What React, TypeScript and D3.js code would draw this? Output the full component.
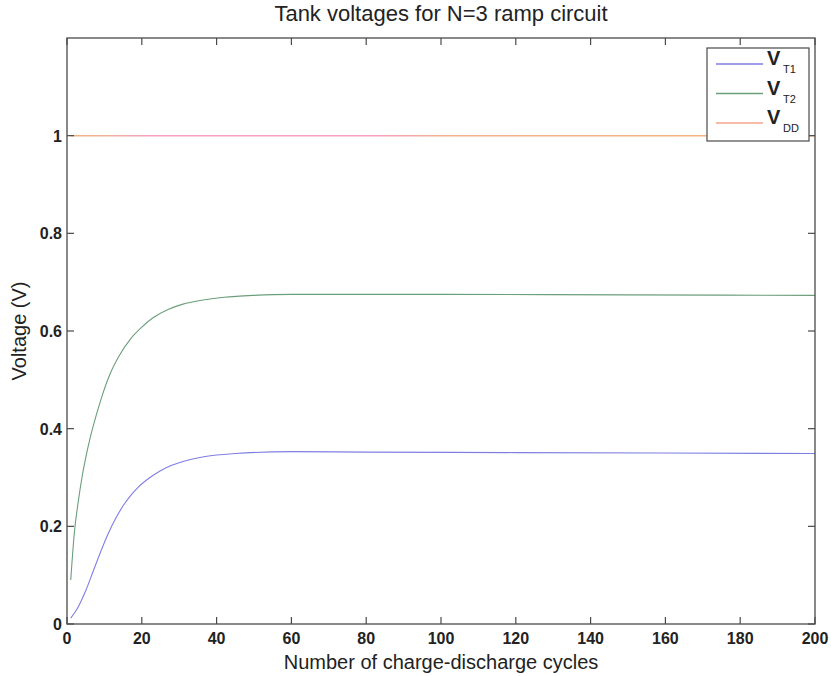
import React from "react";
import * as d3 from "d3";

const vt1X = [1, 3, 5, 7, 9, 11, 13, 15, 17, 19, 22, 25, 28, 32, 37, 45, 60, 80, 120, 200];
const vt1Y = [0.012, 0.035, 0.068, 0.108, 0.148, 0.185, 0.216, 0.242, 0.263, 0.280, 0.299, 0.314, 0.325, 0.335, 0.343, 0.349, 0.353, 0.352, 0.351, 0.349];

const vt2X = [1, 2, 3, 4, 5, 6, 7, 9, 11.5, 14, 17, 20, 23, 27, 31, 36, 42, 50, 60, 100, 150, 200];
const vt2Y = [0.09, 0.19, 0.25, 0.30, 0.34, 0.375, 0.405, 0.458, 0.512, 0.55, 0.584, 0.608, 0.627, 0.644, 0.655, 0.663, 0.669, 0.673, 0.675, 0.675, 0.674, 0.673];

const vddX = [1, 200];
const vddY = [1, 1];

const xTicks = [0, 20, 40, 60, 80, 100, 120, 140, 160, 180, 200];
const yTicks = [0, 0.2, 0.4, 0.6, 0.8, 1];
const yTickLabels = ["0", "0.2", "0.4", "0.6", "0.8", "1"];

const legendNames = ["T1", "T2", "DD"];
const legendColors = ["#7f7fe2", "#6a9f7a", "#f4a48c"];

export default function App() {
  const W = 831, H = 676;
  const L = 67, R = 815, T = 38, B = 624;
  const x = d3.scaleLinear().domain([0, 200]).range([L, R]);
  const y = d3.scaleLinear().domain([0, 1.2]).range([B, T]);
  const line = d3.line<[number, number]>().x(d => x(d[0])).y(d => y(d[1])).curve(d3.curveMonotoneX);
  const zip = (a: number[], b: number[]) => a.map((v, i) => [v, b[i]] as [number, number]);
  const axisColor = "#4a4a4a";
  const font = "'Liberation Sans', Arial, Helvetica, sans-serif";
  const tickLen = 7;

  return (
    <svg width={W} height={H} style={{ position: "absolute", left: 0, top: 0, background: "#fff" }} fontFamily={font}>
      <defs>
        <linearGradient id="vddGrad" gradientUnits="userSpaceOnUse" x1={L} x2={R} y1={0} y2={0}>
          <stop offset="0%" stopColor="#f2b47c" />
          <stop offset="6%" stopColor="#f2b0a0" />
          <stop offset="12%" stopColor="#f5a0c4" />
          <stop offset="40%" stopColor="#f5a0c4" />
          <stop offset="52%" stopColor="#f4b48a" />
          <stop offset="100%" stopColor="#f5b47e" />
        </linearGradient>
      </defs>
      <rect x={0} y={0} width={W} height={H} fill="#fff" />
      {/* lines */}
      <path d={line(zip(vddX, vddY)) || ""} fill="none" stroke="url(#vddGrad)" strokeWidth={1.5} />
      <path d={line(zip(vt2X, vt2Y)) || ""} fill="none" stroke={legendColors[1]} strokeWidth={1.1} />
      <path d={line(zip(vt1X, vt1Y)) || ""} fill="none" stroke={legendColors[0]} strokeWidth={1.1} />
      {/* box */}
      <rect x={L} y={T} width={R - L} height={B - T} fill="none" stroke={axisColor} strokeWidth={1.3} />
      {/* x ticks */}
      {xTicks.map(t => (
        <g key={"x" + t}>
          <line x1={x(t)} x2={x(t)} y1={B} y2={B - tickLen} stroke={axisColor} strokeWidth={1.2} />
          <line x1={x(t)} x2={x(t)} y1={T} y2={T + tickLen} stroke={axisColor} strokeWidth={1.2} />
          <text x={x(t)} y={B + 20} textAnchor="middle" fontSize={16} fontWeight="bold" fill="#222">{t}</text>
        </g>
      ))}
      {yTicks.map((t, i) => (
        <g key={"y" + t}>
          <line x1={L} x2={L + tickLen} y1={y(t)} y2={y(t)} stroke={axisColor} strokeWidth={1.2} />
          <line x1={R} x2={R - tickLen} y1={y(t)} y2={y(t)} stroke={axisColor} strokeWidth={1.2} />
          <text x={L - 5} y={y(t) + 6} textAnchor="end" fontSize={16} fontWeight="bold" fill="#222">{yTickLabels[i]}</text>
        </g>
      ))}
      {/* title & labels */}
      <text x={(L + R) / 2} y={21} textAnchor="middle" fontSize={22} fill="#222">Tank voltages for N=3 ramp circuit</text>
      <text x={(L + R) / 2} y={669} textAnchor="middle" fontSize={20} fill="#222">Number of charge-discharge cycles</text>
      <text transform={`translate(26,${(T + B) / 2}) rotate(-90)`} textAnchor="middle" fontSize={20} fill="#222">Voltage (V)</text>
      {/* legend */}
      <rect x={707} y={48} width={102} height={93} fill="#fff" stroke={axisColor} strokeWidth={1.2} />
      {legendNames.map((n, i) => {
        const ly = 64 + i * 29.5;
        return (
          <g key={n}>
            <line x1={716} x2={763} y1={ly} y2={ly} stroke={legendColors[i]} strokeWidth={1.3} />
            <text x={767} y={ly + 1} fontSize={20} fontWeight="bold" fill="#222">V</text>
            <text x={783} y={ly + 9} fontSize={11} fill="#222">{n}</text>
          </g>
        );
      })}
    </svg>
  );
}
